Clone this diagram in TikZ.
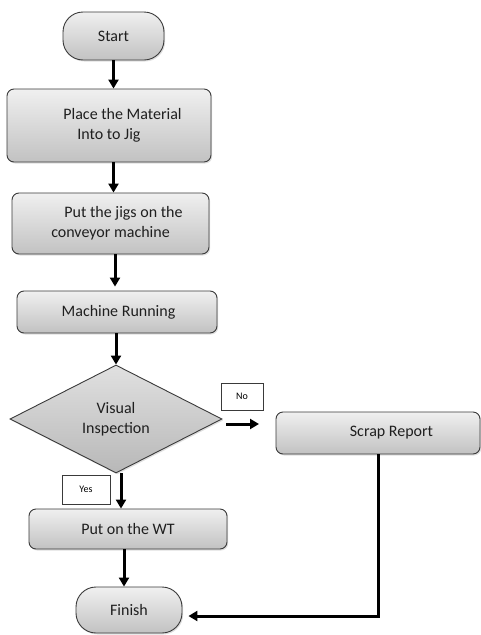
\documentclass[tikz,border=0pt]{standalone}
\usepackage{fontspec}
\setmainfont{Carlito}
\usetikzlibrary{arrows.meta,shapes.geometric,shadows}
\definecolor{bordc}{HTML}{3A3A3A}
\tikzset{
  base/.style={draw=bordc, line width=0.9pt, inner sep=0pt, align=center,
    font=\fontsize{16}{20}\selectfont, text=black!88,
    top color=white!94!black, bottom color=white!76!black,
    drop shadow={opacity=0.25, shadow xshift=1.2pt, shadow yshift=-1.5pt}},
  termbox/.style={base, rounded corners=20pt},
  procbox/.style={base, rounded corners=7pt},
  decbox/.style={base, diamond, top color=white!88!black, bottom color=white!72!black},
  lblbox/.style={draw=bordc, line width=0.7pt, fill=white, inner sep=0pt,
    font=\fontsize{10}{12}\selectfont},
  arr/.style={line width=3pt, -{Triangle[length=9pt,width=10pt]}}
}
\begin{document}
\begin{tikzpicture}[x=1pt,y=-1pt]
\useasboundingbox (0,0) rectangle (481,635);
\node[termbox, minimum width=101pt, minimum height=48pt] (start) at (113.5,36) {Start};
\node[procbox, minimum width=204pt, minimum height=73pt] (place) at (109,125.5) {\hspace*{27pt}Place the Material\\Into to Jig};
\node[procbox, minimum width=197pt, minimum height=61pt] (put) at (110.5,223.5) {\hspace*{26pt}Put the jigs on the\\conveyor machine};
\node[procbox, minimum width=200pt, minimum height=42pt] (mach) at (117,312) {\hspace*{3pt}Machine Running};
\node[decbox, minimum width=212pt, minimum height=108pt] (dia) at (116,419) {Visual\\Inspection};
\node[procbox, minimum width=204pt, minimum height=42pt] (scrap) at (378,433) {\hspace*{27pt}Scrap Report};
\node[procbox, minimum width=198pt, minimum height=40pt] (wt) at (128,529) {Put on the WT};
\node[termbox, minimum width=106pt, minimum height=46pt] (finish) at (129,610) {Finish};
\node[lblbox, minimum width=42pt, minimum height=27pt] (no) at (242,396.5) {No};
\node[lblbox, minimum width=48pt, minimum height=29pt] (yes) at (86,489.5) {Yes};
\coordinate (noend) at (259,424);
\draw[arr] (start.south) -- (start.south |- place.north);
\draw[arr] (place.south -| start.south) -- (put.north -| start.south);
\draw[arr] ([xshift=4.5pt]put.south) -- ([xshift=4.5pt,yshift=4pt]put.south |- mach.north);
\draw[arr] (mach.south -| dia.north) -- (dia.north);
\draw[arr] ([xshift=4pt,yshift=-5pt]dia.east) -- (noend);
\draw[arr] ([xshift=5pt]dia.south) -- ([xshift=5pt]dia.south |- wt.north);
\draw[arr] ([xshift=-4pt]wt.south) -- ([xshift=-4pt]wt.south |- finish.north);
\draw[arr, shorten >=6pt] (scrap.south) |- ([yshift=-6pt]finish.east);
\end{tikzpicture}
\end{document}
